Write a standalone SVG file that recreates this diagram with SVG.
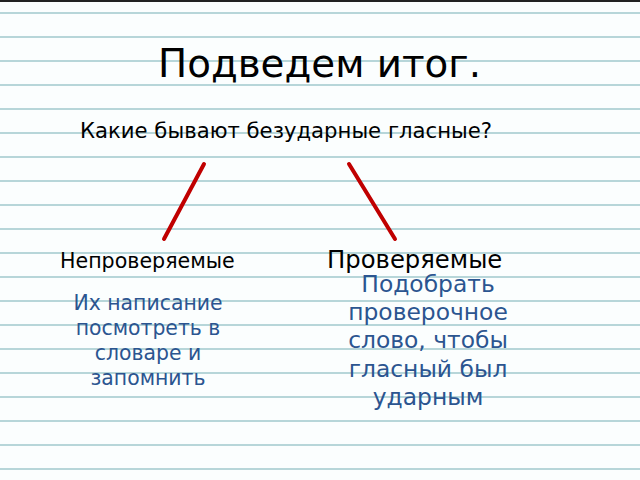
<svg xmlns="http://www.w3.org/2000/svg" width="640" height="480" viewBox="0 0 640 480">
<defs>
<style>
.rule{stroke:#b7d6d9;stroke-width:2}
.conn{stroke:#c00000;stroke-width:4;stroke-linecap:round}
.blk{font-family:"DejaVu Sans",sans-serif;fill:#000}
.blue{font-family:"DejaVu Sans",sans-serif;fill:#2b5590;text-anchor:middle}
</style>
<pattern id="lines" x="0" y="1" width="640" height="24" patternUnits="userSpaceOnUse">
<line class="rule" x1="0" y1="12" x2="640" y2="12"/>
</pattern>
</defs>
<rect width="640" height="480" fill="#fbfefe"/>
<rect width="640" height="480" fill="url(#lines)"/>
<rect width="640" height="2" fill="#222"/>
<g id="title"><text class="blk" x="158" y="77" font-size="38.8">Подведем итог.</text></g>
<g id="question"><text class="blk" x="80" y="138" font-size="21.2">Какие бывают безударные гласные?</text></g>
<g id="connectors">
<line class="conn" x1="204" y1="164" x2="164" y2="239"/>
<line class="conn" x1="349" y1="164" x2="395" y2="239"/>
</g>
<g id="node-unchecked">
<text class="blk" x="60" y="268" font-size="20.6">Непроверяемые</text>
<text class="blue" font-size="20.4"><tspan x="148" y="310">Их написание</tspan><tspan x="148" y="335">посмотреть в</tspan><tspan x="148" y="360">словаре и</tspan><tspan x="148" y="385">запомнить</tspan></text>
</g>
<g id="node-checked">
<text class="blk" x="327" y="268" font-size="24.3">Проверяемые</text>
<text class="blue" font-size="23.4"><tspan x="428" y="292">Подобрать</tspan><tspan x="428" y="320">проверочное</tspan><tspan x="428" y="348">слово, чтобы</tspan><tspan x="428" y="377">гласный был</tspan><tspan x="428" y="405">ударным</tspan></text>
</g>
</svg>
